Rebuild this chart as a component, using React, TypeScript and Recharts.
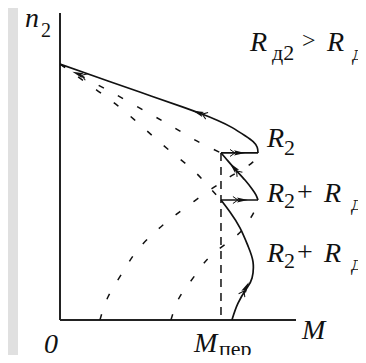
import React from 'react';
import { LineChart, Line, XAxis, YAxis, ReferenceDot, ReferenceLine } from 'recharts';

// M is torque relative to the switching torque M_пер, n is speed relative to n0
const naturalStable = [
  { M: 0, n: 1.0 }, { M: 0.25, n: 0.945 }, { M: 0.5, n: 0.89 }, { M: 0.76, n: 0.833 },
  { M: 0.87, n: 0.808 }, { M: 0.98, n: 0.78 }, { M: 1.07, n: 0.752 }, { M: 1.15, n: 0.72 },
  { M: 1.2, n: 0.697 }, { M: 1.225, n: 0.675 }, { M: 1.23, n: 0.653 },
];
const naturalLower = [
  { M: 0.248, n: 0 }, { M: 0.298, n: 0.09 }, { M: 0.379, n: 0.176 }, { M: 0.472, n: 0.266 },
  { M: 0.59, n: 0.344 }, { M: 0.702, n: 0.403 }, { M: 0.826, n: 0.461 }, { M: 0.95, n: 0.516 },
  { M: 1.043, n: 0.555 }, { M: 1.118, n: 0.583 }, { M: 1.199, n: 0.618 }, { M: 1.23, n: 0.653 },
];
const rd1Upper = [
  { M: 0, n: 1.0 }, { M: 0.217, n: 0.925 }, { M: 0.373, n: 0.872 }, { M: 0.547, n: 0.81 },
  { M: 0.696, n: 0.757 }, { M: 0.832, n: 0.706 }, { M: 1.0, n: 0.653 },
];
const rd1Solid = [
  { M: 1.0, n: 0.653 }, { M: 1.043, n: 0.622 }, { M: 1.087, n: 0.59 }, { M: 1.149, n: 0.547 },
  { M: 1.193, n: 0.512 }, { M: 1.217, n: 0.489 }, { M: 1.23, n: 0.469 },
];
const rd1Lower = [
  { M: 0.689, n: 0 }, { M: 0.733, n: 0.078 }, { M: 0.795, n: 0.137 }, { M: 0.876, n: 0.207 },
  { M: 0.957, n: 0.262 }, { M: 1.093, n: 0.328 }, { M: 1.155, n: 0.371 }, { M: 1.205, n: 0.422 },
  { M: 1.23, n: 0.469 },
];
const rd2Upper = [
  { M: 0, n: 1.0 }, { M: 0.236, n: 0.895 }, { M: 0.36, n: 0.837 }, { M: 0.478, n: 0.774 },
  { M: 0.596, n: 0.708 }, { M: 0.714, n: 0.645 }, { M: 0.832, n: 0.583 }, { M: 0.932, n: 0.516 },
  { M: 1.0, n: 0.469 },
];
const rd2Solid = [
  { M: 1.068, n: 0 }, { M: 1.106, n: 0.066 }, { M: 1.161, n: 0.125 }, { M: 1.193, n: 0.164 },
  { M: 1.199, n: 0.227 }, { M: 1.168, n: 0.289 }, { M: 1.118, n: 0.36 }, { M: 1.056, n: 0.422 },
  { M: 1.0, n: 0.469 },
];
const switchHigh = [{ M: 1.0, n: 0.653 }, { M: 1.23, n: 0.653 }];
const switchLow = [{ M: 1.0, n: 0.469 }, { M: 1.23, n: 0.469 }];
const mPerLine = [{ M: 1.0, n: 0.653 }, { M: 1.0, n: 0 }];

const arrowPoints = [
  { M: 0.112, n: 0.962 }, { M: 0.86, n: 0.81 }, { M: 1.08, n: 0.595 },
  { M: 1.155, n: 0.127 }, { M: 1.112, n: 0.653 }, { M: 1.13, n: 0.469 },
];
const arrowHeadings = [-160, -160, -131, -62, 0, 0];

const serif = '"Liberation Serif", "Times New Roman", serif';
const ink = '#111';

function ArrowHead({ cx, cy, angle }: { cx?: number; cy?: number; angle: number }) {
  if (cx == null || cy == null) return null;
  return (
    <g transform={`translate(${cx},${cy}) rotate(${angle})`}>
      <polygon points="6,0 -5,-2.6 -3,0 -5,2.6" fill={ink} />
      <polyline points="-9,-3.5 -4,0 -9,3.5" fill="none" stroke={ink} strokeWidth={1} />
    </g>
  );
}

function curve(key: string, data: { M: number; n: number }[], dashed: boolean) {
  return (
    <Line
      key={key}
      data={data}
      dataKey="n"
      type={data.length > 2 ? 'natural' : 'linear'}
      stroke={ink}
      strokeWidth={dashed ? 1.5 : 1.7}
      strokeDasharray={dashed ? '6 16' : undefined}
      dot={false}
      activeDot={false}
      isAnimationActive={false}
    />
  );
}

function T({ x, y, size, italic, children }: { x: number; y: number; size: number; italic?: boolean; children: React.ReactNode }) {
  return (
    <text x={x} y={y} fill={ink} style={{ fontFamily: serif, fontSize: size, fontStyle: italic ? 'italic' : 'normal' }}>
      {children}
    </text>
  );
}

export default function App() {
  return (
    <div style={{ position: 'relative', width: 366, height: 363, margin: -8, background: '#e0e0e0', overflow: 'hidden' }}>
      <div style={{ position: 'absolute', left: 18, top: 6, right: 0, bottom: 0, background: '#fff' }} />
      <LineChart
        width={366}
        height={363}
        margin={{ top: 13, right: 70, bottom: 43, left: 60 }}
        style={{ position: 'absolute', left: 0, top: 0 }}
      >
        <XAxis dataKey="M" type="number" domain={[0, 1.466]} allowDataOverflow hide />
        <YAxis type="number" domain={[0, 1.2]} allowDataOverflow hide />
        <ReferenceLine x={0} stroke="#222" strokeWidth={2} />
        <ReferenceLine y={0} stroke="#222" strokeWidth={2} />
        {curve('naturalLower', naturalLower, true)}
        {curve('rd1Upper', rd1Upper, true)}
        {curve('rd1Lower', rd1Lower, true)}
        {curve('rd2Upper', rd2Upper, true)}
        <Line
          data={mPerLine}
          dataKey="n"
          type="linear"
          stroke={ink}
          strokeWidth={1.5}
          strokeDasharray="8 6"
          dot={false}
          activeDot={false}
          isAnimationActive={false}
        />
        {curve('naturalStable', naturalStable, false)}
        {curve('rd1Solid', rd1Solid, false)}
        {curve('rd2Solid', rd2Solid, false)}
        {curve('switchHigh', switchHigh, false)}
        {curve('switchLow', switchLow, false)}
        {arrowPoints.map((p, i) => (
          <ReferenceDot
            key={i}
            x={p.M}
            y={p.n}
            r={0}
            shape={(props: any) => <ArrowHead cx={props.cx} cy={props.cy} angle={arrowHeadings[i]} />}
          />
        ))}
      </LineChart>
      <svg width={366} height={363} style={{ position: 'absolute', left: 0, top: 0, pointerEvents: 'none' }}>
        <T x={25} y={27} size={28} italic>n</T>
        <T x={41} y={37} size={20}>2</T>
        <T x={44} y={353} size={28} italic>0</T>
        <T x={302} y={339} size={28} italic>M</T>
        <T x={194} y={352} size={28} italic>M</T>
        <T x={219} y={356} size={22}>пер</T>

        <T x={250} y={51} size={28} italic>R</T>
        <T x={272} y={60} size={22}>д2</T>
        <T x={302} y={48} size={24}>&gt;</T>
        <T x={327} y={51} size={28} italic>R</T>
        <T x={352} y={60} size={22}>д</T>

        <T x={267} y={147} size={28} italic>R</T>
        <T x={284} y={155} size={22}>2</T>

        <T x={267} y={202} size={28} italic>R</T>
        <T x={284} y={208} size={22}>2</T>
        <T x={297} y={201} size={28}>+</T>
        <T x={324} y={202} size={28} italic>R</T>
        <T x={351} y={210} size={22}>д</T>

        <T x={267} y={262} size={28} italic>R</T>
        <T x={284} y={268} size={22}>2</T>
        <T x={297} y={261} size={28}>+</T>
        <T x={324} y={262} size={28} italic>R</T>
        <T x={351} y={270} size={22}>д</T>
      </svg>
    </div>
  );
}
